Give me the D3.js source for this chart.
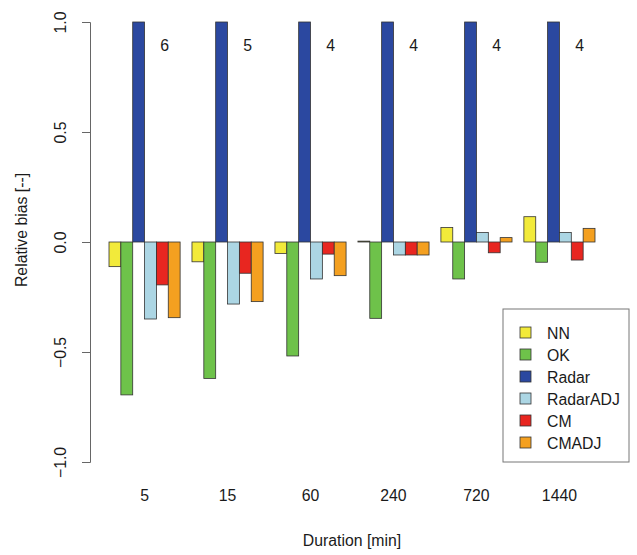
<!DOCTYPE html>
<html>
<head>
<meta charset="utf-8" />
<title>Relative bias by duration</title>
<script src="https://cdn.jsdelivr.net/npm/d3@7"></script>
<style>
body { margin: 0; background: white; font-family: "Liberation Sans", Arial, sans-serif; }
text { fill: #1a1a1a; }
</style>
</head>
<body>
<script>
var width = 637;
var height = 555;

// durations on the x axis
var durations = ["5", "15", "60", "240", "720", "1440"];
var methods = ["NN", "OK", "Radar", "RadarADJ", "CM", "CMADJ"];
var colors = ["#f2ea3a", "#6ec24a", "#2b48a0", "#acd6e4", "#e82620", "#f4a020"];

// relative bias per method, one value per duration
var nn       = [-0.112, -0.090, -0.052, 0.004, 0.066, 0.115];
var ok       = [-0.695, -0.620, -0.518, -0.347, -0.168, -0.092];
var radar    = [6, 5, 4, 4, 4, 4];   // off the scale, printed next to the bar
var radarAdj = [-0.350, -0.282, -0.168, -0.059, 0.043, 0.043];
var cm       = [-0.195, -0.142, -0.055, -0.059, -0.049, -0.082];
var cmAdj    = [-0.344, -0.271, -0.153, -0.059, 0.020, 0.062];
var series = [nn, ok, radar, radarAdj, cm, cmAdj];

var yTicks = [-1, -0.5, 0, 0.5, 1];
var fs = "15.8px";

var svg = d3.select("body").append("svg")
  .attr("width", width)
  .attr("height", height);

var y = d3.scaleLinear().domain([-1, 1]).range([462, 22]).clamp(true);

var x = d3.scaleBand().domain(durations)
  .range([109, 595])
  .paddingInner(1 / 7)
  .paddingOuter(0);

var xs = d3.scaleBand().domain(methods).range([0, x.bandwidth()]);

// bars
var groups = svg.append("g").selectAll("g")
  .data(durations)
  .enter().append("g")
  .attr("transform", function(d) { return "translate(" + x(d) + ",0)"; });

groups.selectAll("rect")
  .data(function(d, i) {
    return methods.map(function(m, j) { return { m: m, v: series[j][i], c: colors[j] }; });
  })
  .enter().append("rect")
  .attr("x", function(d) { return xs(d.m); })
  .attr("width", xs.bandwidth())
  .attr("y", function(d) { return Math.min(y(0), y(d.v)); })
  .attr("height", function(d) { return Math.max(0.6, Math.abs(y(d.v) - y(0))); })
  .attr("fill", function(d) { return d.c; })
  .attr("stroke", "#333")
  .attr("stroke-width", 0.8);

// radar values printed beside the clipped bars
groups.append("text")
  .attr("x", xs("CM") + xs.bandwidth() * 0.7)
  .attr("y", 51)
  .attr("text-anchor", "middle")
  .style("font-size", fs)
  .text(function(d, i) { return radar[i]; });

// y axis
var yAxis = d3.axisLeft(y).tickValues(yTicks).tickSize(8).tickFormat(d3.format(".1f"));
var ga = svg.append("g").attr("transform", "translate(90,0)").call(yAxis);
ga.select(".domain").attr("stroke", "#666");
ga.selectAll(".tick line").attr("stroke", "#666");
ga.selectAll(".tick text")
  .attr("x", null).attr("dy", null)
  .attr("transform", "translate(-24,0) rotate(-90)")
  .attr("text-anchor", "middle")
  .style("font-size", fs)
  .style("font-family", "Liberation Sans, Arial, sans-serif")
  .attr("fill", "#1a1a1a");

svg.append("text")
  .attr("transform", "translate(27,230) rotate(-90)")
  .attr("text-anchor", "middle")
  .style("font-size", fs)
  .text("Relative bias [--]");

// x labels
svg.append("g").selectAll("text")
  .data(durations)
  .enter().append("text")
  .attr("x", function(d) { return x(d) + x.bandwidth() / 2; })
  .attr("y", 501)
  .attr("text-anchor", "middle")
  .style("font-size", fs)
  .text(function(d) { return d; });

svg.append("text")
  .attr("x", 352)
  .attr("y", 546)
  .attr("text-anchor", "middle")
  .style("font-size", fs)
  .text("Duration [min]");

// legend
var lg = svg.append("g").attr("transform", "translate(503,309)");
lg.append("rect")
  .attr("width", 126).attr("height", 153)
  .attr("fill", "white").attr("stroke", "#777");
var li = lg.selectAll("g.item")
  .data(methods)
  .enter().append("g")
  .attr("class", "item")
  .attr("transform", function(d, i) { return "translate(0," + (24 + i * 22) + ")"; });
li.append("rect")
  .attr("x", 17).attr("y", -6)
  .attr("width", 11).attr("height", 11)
  .attr("fill", function(d, i) { return colors[i]; })
  .attr("stroke", "#333").attr("stroke-width", 0.8);
li.append("text")
  .attr("x", 44).attr("y", 5.5)
  .style("font-size", fs)
  .text(function(d) { return d; });
</script>
</body>
</html>
